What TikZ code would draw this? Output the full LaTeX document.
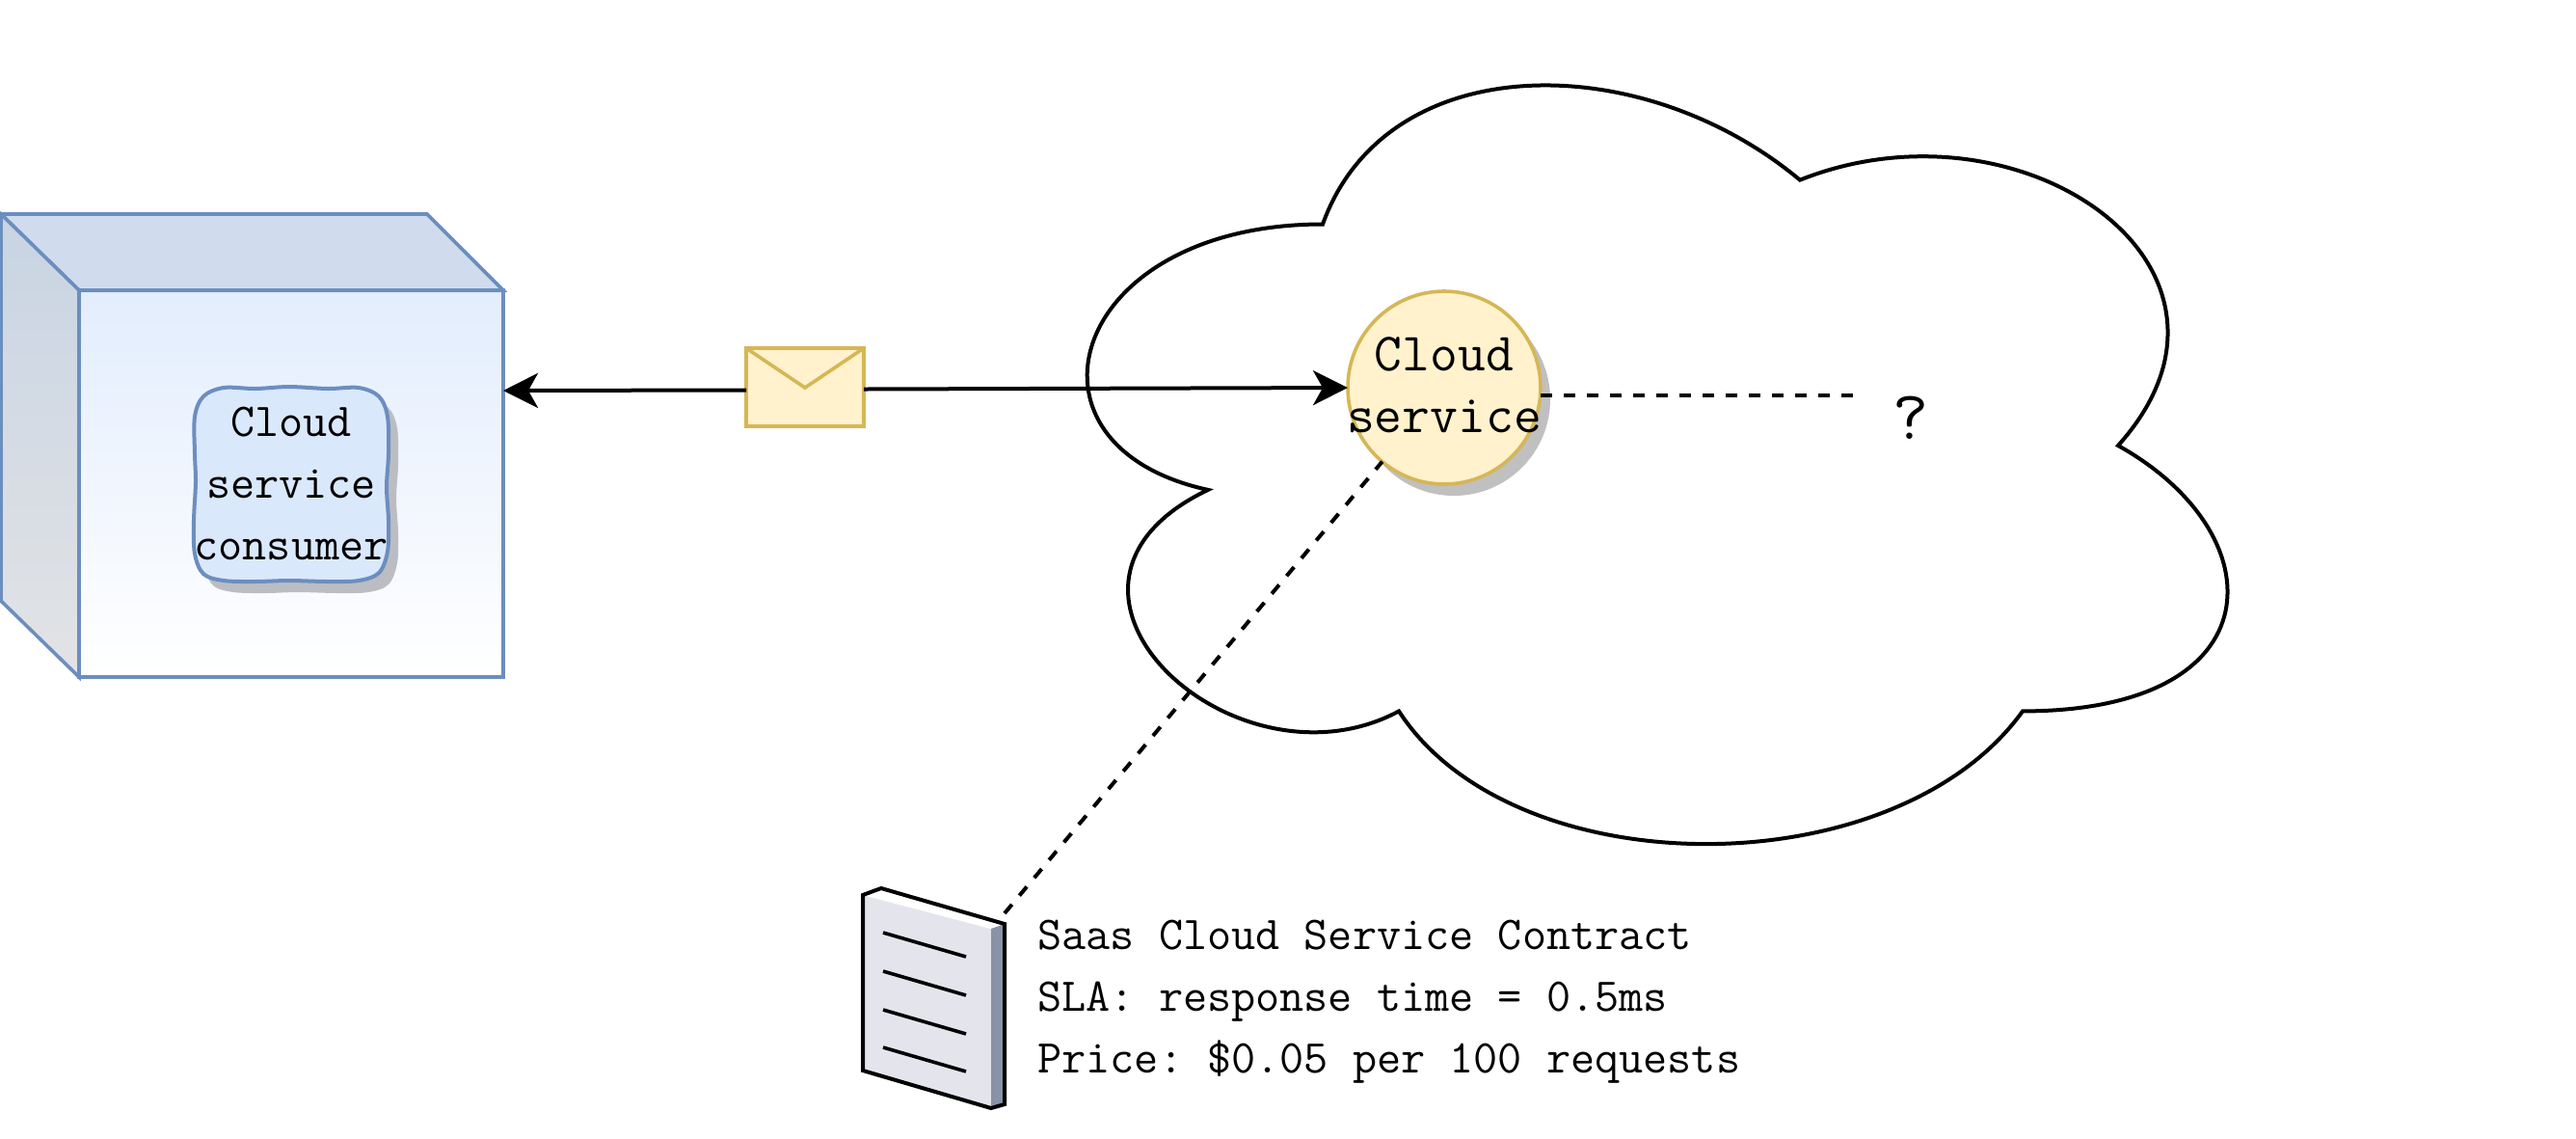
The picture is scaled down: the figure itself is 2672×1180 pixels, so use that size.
\documentclass[tikz,border=0pt]{standalone}
\usetikzlibrary{arrows.meta,shapes.geometric,shadows}
\definecolor{cubeline}{HTML}{6C8EBF}
\definecolor{cubefill}{HTML}{E2EDFD}
\definecolor{cubetop}{HTML}{D0DCEE}
\definecolor{cubesideA}{HTML}{C8D4E3}
\definecolor{cubesideB}{HTML}{E2E3E5}
\definecolor{innerfill}{HTML}{DAE8FC}
\definecolor{shadowgrey}{HTML}{BBBDC2}
\definecolor{circleshadow}{HTML}{C0C0C0}
\definecolor{servicefill}{HTML}{FFF2CC}
\definecolor{serviceline}{HTML}{D6B656}
\definecolor{docfront}{HTML}{E4E5EC}
\definecolor{docside}{HTML}{8A92A5}
\tikzset{
  x=0.5pt,y=-0.5pt,
  cubeedge/.style={draw=cubeline,line width=1.8pt,line join=miter},
  tt28/.style={font=\ttfamily\frenchspacing\fontsize{28}{32}\selectfont,align=center,inner sep=0pt},
  tt24/.style={font=\ttfamily\frenchspacing\fontsize{24.4}{32}\selectfont,align=center,inner sep=0pt},
  tt36/.style={font=\ttfamily\fontsize{36}{40}\selectfont,align=center,inner sep=0pt},
  link/.style={draw=black,line width=2pt,-{Stealth[length=18pt,width=18pt,inset=5pt]}},
  dashlink/.style={draw=black,line width=2pt,dash pattern=on 6pt off 6pt},
  cloudline/.style={draw=black,line width=2pt,line join=miter},
  docline/.style={draw=black,line width=2pt,line join=miter},
  docrule/.style={draw=black,line width=1.8pt},
  paleyellow/.style={draw=serviceline,fill=servicefill,line width=1.8pt},
}
\begin{document}
\begin{tikzpicture}
\useasboundingbox (0,0) rectangle (2672,1180);
% cloud (x0=1042,y0=3,w=1320,h=918)
\path[cloudline,fill=white]
  (1372,232.5)
  .. controls (1108,232.5) and (1042,462) .. (1253,507.9)
  .. controls (1042,608.9) and (1280,829.2) .. (1451,737.4)
  .. controls (1570,921) and (1966,921) .. (2098,737.4)
  .. controls (2362,737.4) and (2362,553.8) .. (2197,462)
  .. controls (2362,278.4) and (2098,94.8) .. (1867,186.6)
  .. controls (1702,48.9) and (1438,48.9) .. (1372,232.5) -- cycle;
% cube
\coordinate (cTL) at (1,222);
\coordinate (cTR) at (443,222);
\coordinate (cBL) at (1,623);
\node[cubeedge,top color=cubefill,bottom color=white,minimum width=220pt,minimum height=200.5pt,inner sep=0pt,outer sep=0pt] (front) at (302,501.5) {};
\path[cubeedge,fill=cubetop] (cTL) -- (cTR) -- (front.north east) -- (front.north west) -- cycle;
\path[cubeedge,top color=cubesideA,bottom color=cubesideB] (cTL) -- (front.north west) -- (front.south west) -- (cBL) -- cycle;
% consumer
\fill[shadowgrey,shift={(10,12)}] plot[smooth cycle,tension=0.55] coordinates {(232,402)(265,403)(300,401)(340,403)(372,402)(393,411)(402,432)(403,470)(401,505)(403,540)(402,572)(393,594)(372,602)(340,603)(300,602)(265,603)(232,602)(211,595)(202,574)(201,540)(203,500)(202,470)(202,432)(211,411)};
\draw[cubeedge,fill=innerfill,line width=2pt] plot[smooth cycle,tension=0.55] coordinates {(232,402)(265,403)(300,401)(340,403)(372,402)(393,411)(402,432)(403,470)(401,505)(403,540)(402,572)(393,594)(372,602)(340,603)(300,602)(265,603)(232,602)(211,595)(202,574)(201,540)(203,500)(202,470)(202,432)(211,411)};
\node[tt24] (consumer) at (302,501) {Cloud\\service\\consumer};
% service
\fill[circleshadow] (1508,414) circle[radius=100];
\node[circle,paleyellow,minimum size=100pt,inner sep=0pt,outer sep=0pt] (service) at (1498,402) {};
\node[tt28] (servicetext) at (1498,399) {Cloud\\service};
% envelope
\node[rectangle,paleyellow,minimum width=61pt,minimum height=40.5pt,inner sep=0pt,outer sep=0pt] (env) at (835,401.5) {};
\draw[paleyellow,fill=none,line join=miter] (env.north west) -- (835,402) -- (env.north east);
% links
\draw[link] (env.west) ++(0,3) -- (front.east |- 0,405);
\draw[link] (env.east) ++(0,2) -- (service.west);
\coordinate (qmarkend) at (1922,410);
\draw[dashlink] (1598,410) -- (qmarkend);
\node[tt36] (qmark) at (1982,433) {?};
% document
\coordinate (dA) at (895,928);
\coordinate (dB) at (914,921);
\coordinate (dC) at (1042,958);
\coordinate (dD) at (1042,1145);
\coordinate (dE) at (1028,1149);
\coordinate (dF) at (895,1110);
\coordinate (dG) at (1028,963);
\fill[docfront] (dA) -- (dG) -- (dE) -- (dF) -- cycle;
\fill[white] (dA) -- (dB) -- (dC) -- (dG) -- cycle;
\fill[docside] (dG) -- (dC) -- (dD) -- (dE) -- cycle;
\draw[docline] (dA) -- (dB) -- (dC) -- (dD) -- (dE) -- (dF) -- cycle;
\draw[docrule] (916,967) -- (1002,992);
\draw[docrule] (916,1007) -- (1002,1032);
\draw[docrule] (916,1047) -- (1002,1072);
\draw[docrule] (916,1086) -- (1002,1111);
\draw[dashlink] (dC) ++(0,-11) -- (service.230);
\node[tt24,align=left,anchor=west] (contract) at (1076,1038.5) {Saas Cloud Service Contract\\SLA: response time = 0.5ms\\Price: \$0.05 per 100 requests};
\end{tikzpicture}
\end{document}
